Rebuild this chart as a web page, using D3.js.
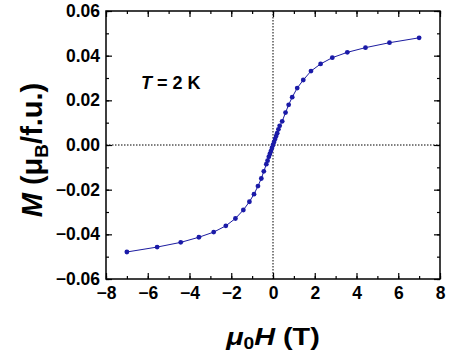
<!DOCTYPE html>
<html><head><meta charset="utf-8">
<script src="https://cdn.jsdelivr.net/npm/d3@7"></script>
<style>body{margin:0;background:#fff}svg{display:block}text{font-family:"Liberation Sans",Arial,sans-serif;font-weight:bold}</style>
</head><body><svg id="c" width="462" height="359"></svg>
<script>
const fieldH = [-7, -5.55, -4.42, -3.55, -2.84, -2.26, -1.8, -1.42, -1.13, -0.91, -0.72, -0.56, -0.44, -0.32, -0.26, -0.2, -0.15, -0.1, -0.05, 0, 0.05, 0.1, 0.15, 0.2, 0.26, 0.32, 0.44, 0.6, 0.75, 0.92, 1.16, 1.45, 1.82, 2.28, 2.84, 3.56, 4.43, 5.58, 7];
const magM = [-0.0479, -0.0457, -0.0436, -0.0413, -0.039, -0.0362, -0.0329, -0.0291, -0.0254, -0.022, -0.0184, -0.015, -0.0118, -0.0086, -0.007, -0.0053, -0.004, -0.0027, -0.0013, 0, 0.0013, 0.0027, 0.004, 0.0053, 0.007, 0.0086, 0.0106, 0.0145, 0.018, 0.0214, 0.0255, 0.0291, 0.0331, 0.0363, 0.0391, 0.0415, 0.0436, 0.0458, 0.048];
const xTicks = [-8, -6, -4, -2, 0, 2, 4, 6, 8];
const yTicks = [-0.06, -0.04, -0.02, 0, 0.02, 0.04, 0.06];
const xMinor = d3.range(-8, 8.01, 1);
const yMinor = d3.range(-0.06, 0.0601, 0.01);

const svg = d3.select("#c");
const L = 106, R = 440, T = 11, B = 279;
const x = d3.scaleLinear().domain([-8, 8]).range([L, R]);
const y = d3.scaleLinear().domain([-0.06, 0.06]).range([B, T]);
const fmtX = d => d < 0 ? "\u2212" + Math.abs(d) : String(d);
const fmtY = d => { const s = Math.abs(d).toFixed(2); return (d < -1e-9 ? "\u2212" : "") + s; };

// zero lines
svg.append("line").attr("x1", x(0)).attr("x2", x(0)).attr("y1", T).attr("y2", B)
  .attr("stroke", "#000").attr("stroke-width", 1).attr("stroke-dasharray", "1.5,1.5");
svg.append("line").attr("x1", L).attr("x2", R).attr("y1", y(0)).attr("y2", y(0))
  .attr("stroke", "#000").attr("stroke-width", 1).attr("stroke-dasharray", "1.5,1.5");

// axes (ticks inward)
function styleAxis(g){ g.select(".domain").remove(); g.selectAll("line").attr("stroke","#000").attr("stroke-width",1.2); }
svg.append("g").attr("transform", `translate(0,${B})`)
  .call(d3.axisBottom(x).tickValues(xTicks).tickSize(-6).tickPadding(8).tickFormat(fmtX))
  .call(styleAxis).call(g => g.selectAll("text").attr("font-size", 17.5).attr("fill","#000"));
svg.append("g").attr("transform", `translate(0,${B})`)
  .call(d3.axisBottom(x).tickValues(xMinor).tickSize(-3).tickFormat(""))
  .call(styleAxis);
svg.append("g").attr("transform", `translate(0,${T})`)
  .call(d3.axisTop(x).tickValues(xTicks).tickSize(-6).tickFormat("")).call(styleAxis);
svg.append("g").attr("transform", `translate(0,${T})`)
  .call(d3.axisTop(x).tickValues(xMinor).tickSize(-3).tickFormat("")).call(styleAxis);
svg.append("g").attr("transform", `translate(${L},0)`)
  .call(d3.axisLeft(y).tickValues(yTicks).tickSize(-6).tickPadding(6).tickFormat(fmtY))
  .call(styleAxis).call(g => g.selectAll("text").attr("font-size", 17.5).attr("fill","#000"));
svg.append("g").attr("transform", `translate(${L},0)`)
  .call(d3.axisLeft(y).tickValues(yMinor).tickSize(-3).tickFormat("")).call(styleAxis);
svg.append("g").attr("transform", `translate(${R},0)`)
  .call(d3.axisRight(y).tickValues(yTicks).tickSize(-6).tickFormat("")).call(styleAxis);
svg.append("g").attr("transform", `translate(${R},0)`)
  .call(d3.axisRight(y).tickValues(yMinor).tickSize(-3).tickFormat("")).call(styleAxis);

svg.append("rect").attr("x", L).attr("y", T).attr("width", R - L).attr("height", B - T)
  .attr("fill", "none").attr("stroke", "#000").attr("stroke-width", 1.5);

// data
const pts = fieldH.map((h, i) => [h, magM[i]]);
svg.append("path").datum(pts)
  .attr("d", d3.line().x(d => x(d[0])).y(d => y(d[1])))
  .attr("fill", "none").attr("stroke", "#1c1ca0").attr("stroke-width", 1);
svg.append("g").selectAll("circle").data(pts).join("circle")
  .attr("cx", d => x(d[0])).attr("cy", d => y(d[1])).attr("r", 2.4)
  .attr("fill", "#1a1aa8");

// labels
const tl = svg.append("text").attr("x", 141).attr("y", 89).attr("font-size", 18).attr("fill","#000");
tl.append("tspan").attr("font-style", "italic").text("T");
tl.append("tspan").text(" = 2 K");

const xt = svg.append("text").attr("transform", "translate(273,345) scale(1.2,1)").attr("text-anchor", "middle").attr("font-size", 24).attr("fill","#000");
xt.append("tspan").attr("font-style", "italic").text("\u03bc");
xt.append("tspan").attr("font-size", 16).attr("dy", 4).text("0");
xt.append("tspan").attr("font-style", "italic").attr("dy", -4).text("H");
xt.append("tspan").text(" (T)");

const yt = svg.append("text").attr("transform", "translate(42,150) rotate(-90)").attr("text-anchor", "middle").attr("font-size", 29).attr("fill","#000");
yt.append("tspan").attr("font-style", "italic").text("M");
yt.append("tspan").text(" (\u03bc");
yt.append("tspan").attr("font-size", 19).attr("dy", 6).text("B");
yt.append("tspan").attr("dy", -6).text("/f.u.)");
</script></body></html>
